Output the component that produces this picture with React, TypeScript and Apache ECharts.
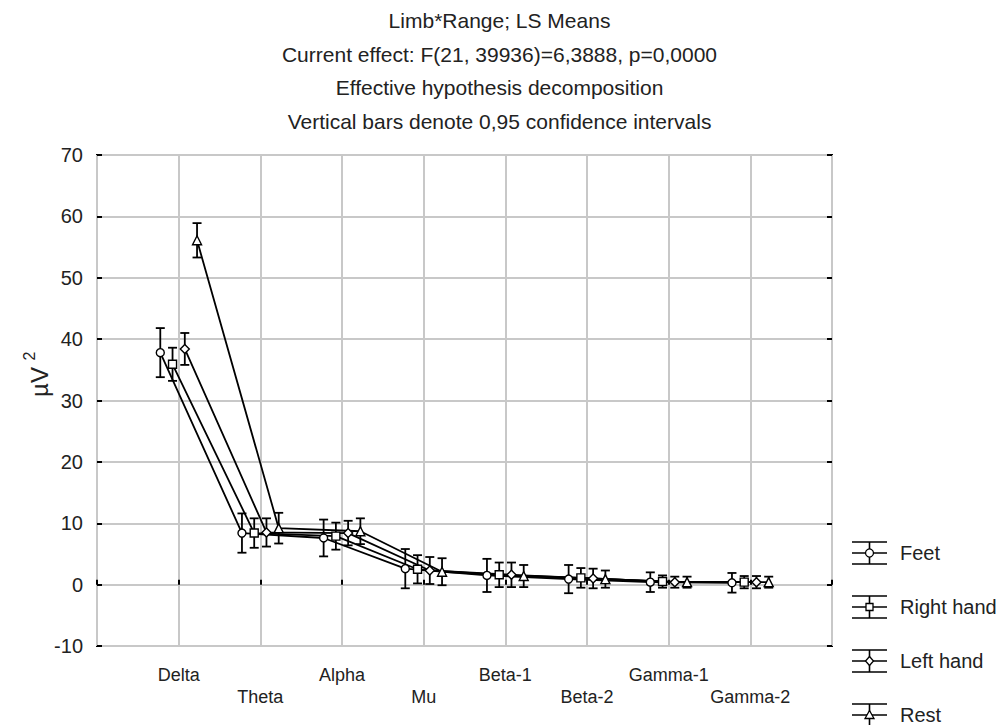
import React, { useEffect, useRef } from "react";
import * as echarts from "echarts";

// Frequency ranges on the x axis
const categories = ["Delta", "Theta", "Alpha", "Mu", "Beta-1", "Beta-2", "Gamma-1", "Gamma-2"];

// LS means (µV²) per limb condition
const feetMeans = [37.8, 8.4, 7.6, 2.6, 1.5, 0.9, 0.4, 0.3];
const rightHandMeans = [35.9, 8.4, 7.9, 2.5, 1.6, 1.1, 0.5, 0.4];
const leftHandMeans = [38.4, 8.5, 8.4, 2.3, 1.6, 1.0, 0.4, 0.4];
const restMeans = [56.1, 9.2, 8.7, 2.1, 1.4, 0.9, 0.4, 0.4];

// Half-widths of the 0,95 confidence intervals
const feetCI = [4.0, 3.2, 3.0, 3.2, 2.7, 2.3, 1.6, 1.6];
const rightHandCI = [2.7, 2.4, 2.2, 2.3, 2.0, 1.6, 1.0, 1.0];
const leftHandCI = [2.6, 2.3, 2.0, 2.2, 2.0, 1.6, 0.9, 1.0];
const restCI = [2.8, 2.5, 2.1, 2.2, 1.8, 1.4, 0.9, 0.9];

const seriesNames = ["Feet", "Right hand", "Left hand", "Rest"];

const titleLines = [
  "Limb*Range; LS Means",
  "Current effect: F(21, 39936)=6,3888, p=0,0000",
  "Effective hypothesis decomposition",
  "Vertical bars denote 0,95 confidence intervals",
];

const FONT = "'Liberation Sans', Arial, sans-serif";
const TEXT = "#222";

const groups = [
  { name: seriesNames[0], means: feetMeans, ci: feetCI, symbol: "circle", size: 8, offset: -0.225 },
  { name: seriesNames[1], means: rightHandMeans, ci: rightHandCI, symbol: "rect", size: 8, offset: -0.075 },
  { name: seriesNames[2], means: leftHandMeans, ci: leftHandCI, symbol: "diamond", size: 9, offset: 0.075 },
  { name: seriesNames[3], means: restMeans, ci: restCI, symbol: "triangle", size: 9, offset: 0.225 },
];

function errorBarItem(params: any, api: any) {
  const x = api.value(0);
  const top = api.coord([x, api.value(2)]);
  const bot = api.coord([x, api.value(1)]);
  const hw = 4.5;
  const st = { stroke: "#000", lineWidth: 1.8 };
  return {
    type: "group",
    children: [
      { type: "line", shape: { x1: top[0], y1: top[1], x2: bot[0], y2: bot[1] }, style: st },
      { type: "line", shape: { x1: top[0] - hw, y1: top[1], x2: top[0] + hw, y2: top[1] }, style: st },
      { type: "line", shape: { x1: bot[0] - hw, y1: bot[1], x2: bot[0] + hw, y2: bot[1] }, style: st },
    ],
  };
}

function legendMarker(symbol: string, cx: number) {
  const style = { fill: "#fff", stroke: "#000", lineWidth: 1.3 };
  if (symbol === "circle") return { type: "circle", shape: { cx, cy: 0, r: 4 }, style };
  if (symbol === "rect") return { type: "rect", shape: { x: cx - 3.5, y: -3.5, width: 7, height: 7 }, style };
  if (symbol === "diamond")
    return { type: "polygon", shape: { points: [[cx, -4.5], [cx + 4, 0], [cx, 4.5], [cx - 4, 0]] }, style };
  return { type: "polygon", shape: { points: [[cx, -4.5], [cx + 4.5, 3.5], [cx - 4.5, 3.5]] }, style };
}

export default function App() {
  const ref = useRef<HTMLDivElement>(null);

  useEffect(() => {
    if (!ref.current) return;
    const chart = echarts.init(ref.current, null, { renderer: "svg" });

    const series: any[] = [];
    groups.forEach((g) => {
      series.push({
        type: "custom",
        name: g.name + " CI",
        renderItem: errorBarItem,
        data: categories.map((_, i) => [i + 1 + g.offset, g.means[i] - g.ci[i], g.means[i] + g.ci[i]]),
        z: 2,
        silent: true,
      });
    });
    groups.forEach((g) => {
      series.push({
        type: "line",
        name: g.name,
        data: categories.map((_, i) => [i + 1 + g.offset, g.means[i]]),
        symbol: g.symbol,
        symbolSize: g.size,
        showAllSymbol: true,
        lineStyle: { color: "#000", width: 1.8 },
        itemStyle: { color: "#fff", borderColor: "#000", borderWidth: 1.4 },
        z: 3,
      });
    });

    const legendChildren: any[] = [];
    groups.forEach((g, i) => {
      const y = 553 + i * 54;
      const ln = { stroke: "#000", lineWidth: 1.6 };
      legendChildren.push({
        type: "group",
        x: 852,
        y,
        children: [
          { type: "line", shape: { x1: 0, y1: -11, x2: 35, y2: -11 }, style: ln },
          { type: "line", shape: { x1: 0, y1: 0, x2: 35, y2: 0 }, style: ln },
          { type: "line", shape: { x1: 0, y1: 11, x2: 35, y2: 11 }, style: ln },
          { type: "line", shape: { x1: 17.5, y1: -11, x2: 17.5, y2: 11 }, style: ln },
          legendMarker(g.symbol, 17.5),
          {
            type: "text",
            x: 48,
            y: 0,
            style: { text: g.name, fontSize: 20, fontFamily: FONT, fill: TEXT, verticalAlign: "middle" },
          },
        ],
      });
    });

    chart.setOption({
      animation: false,
      backgroundColor: "#fff",
      title: {
        text: titleLines.join("\n"),
        left: "center",
        top: -1,
        textStyle: { fontSize: 21, fontWeight: "normal", lineHeight: 33.5, color: TEXT, fontFamily: FONT },
      },
      grid: {
        left: 97,
        right: 167,
        top: 155,
        bottom: 79,
        show: true,
        borderColor: "#000",
        borderWidth: 2,
        containLabel: false,
      },
      xAxis: {
        type: "value",
        min: 0,
        max: 9,
        interval: 1,
        axisLine: { show: false },
        axisTick: { show: true, inside: true, length: 5, lineStyle: { color: "#000", width: 2 } },
        splitLine: { show: true, lineStyle: { color: "#c8c8c8", width: 2 } },
        axisLabel: {
          margin: 18,
          fontSize: 18,
          lineHeight: 22,
          color: TEXT,
          fontFamily: FONT,
          formatter: (v: number) => {
            if (v < 1 || v > categories.length) return "";
            const name = categories[v - 1];
            return v % 2 === 0 ? "\n" + name : name;
          },
        },
      },
      yAxis: [
        {
          type: "value",
          min: -10,
          max: 70,
          interval: 10,
          axisLine: { show: false },
          axisTick: { show: true, inside: true, length: 5, lineStyle: { color: "#000", width: 2 } },
          splitLine: { show: true, lineStyle: { color: "#c8c8c8", width: 2 } },
          axisLabel: { margin: 14, fontSize: 20, color: TEXT, fontFamily: FONT },
        },
        {
          type: "value",
          position: "right",
          min: -10,
          max: 70,
          interval: 10,
          axisLine: { show: false },
          axisTick: { show: true, inside: true, length: 5, lineStyle: { color: "#000", width: 2 } },
          splitLine: { show: false },
          axisLabel: { show: false },
        },
      ],
      series,
      graphic: [
        {
          type: "text",
          x: 39,
          y: 382,
          rotation: Math.PI / 2,
          style: { text: "µV", fontSize: 24, fontFamily: FONT, fill: TEXT, align: "center", verticalAlign: "middle" },
        },
        {
          type: "text",
          x: 29,
          y: 356,
          rotation: Math.PI / 2,
          style: { text: "2", fontSize: 16, fontFamily: FONT, fill: TEXT, align: "center", verticalAlign: "middle" },
        },
        ...legendChildren,
      ],
    });

    return () => chart.dispose();
  }, []);

  return (
    <div
      ref={ref}
      style={{ position: "fixed", left: 0, top: 0, width: 999, height: 725, background: "#fff" }}
    />
  );
}
